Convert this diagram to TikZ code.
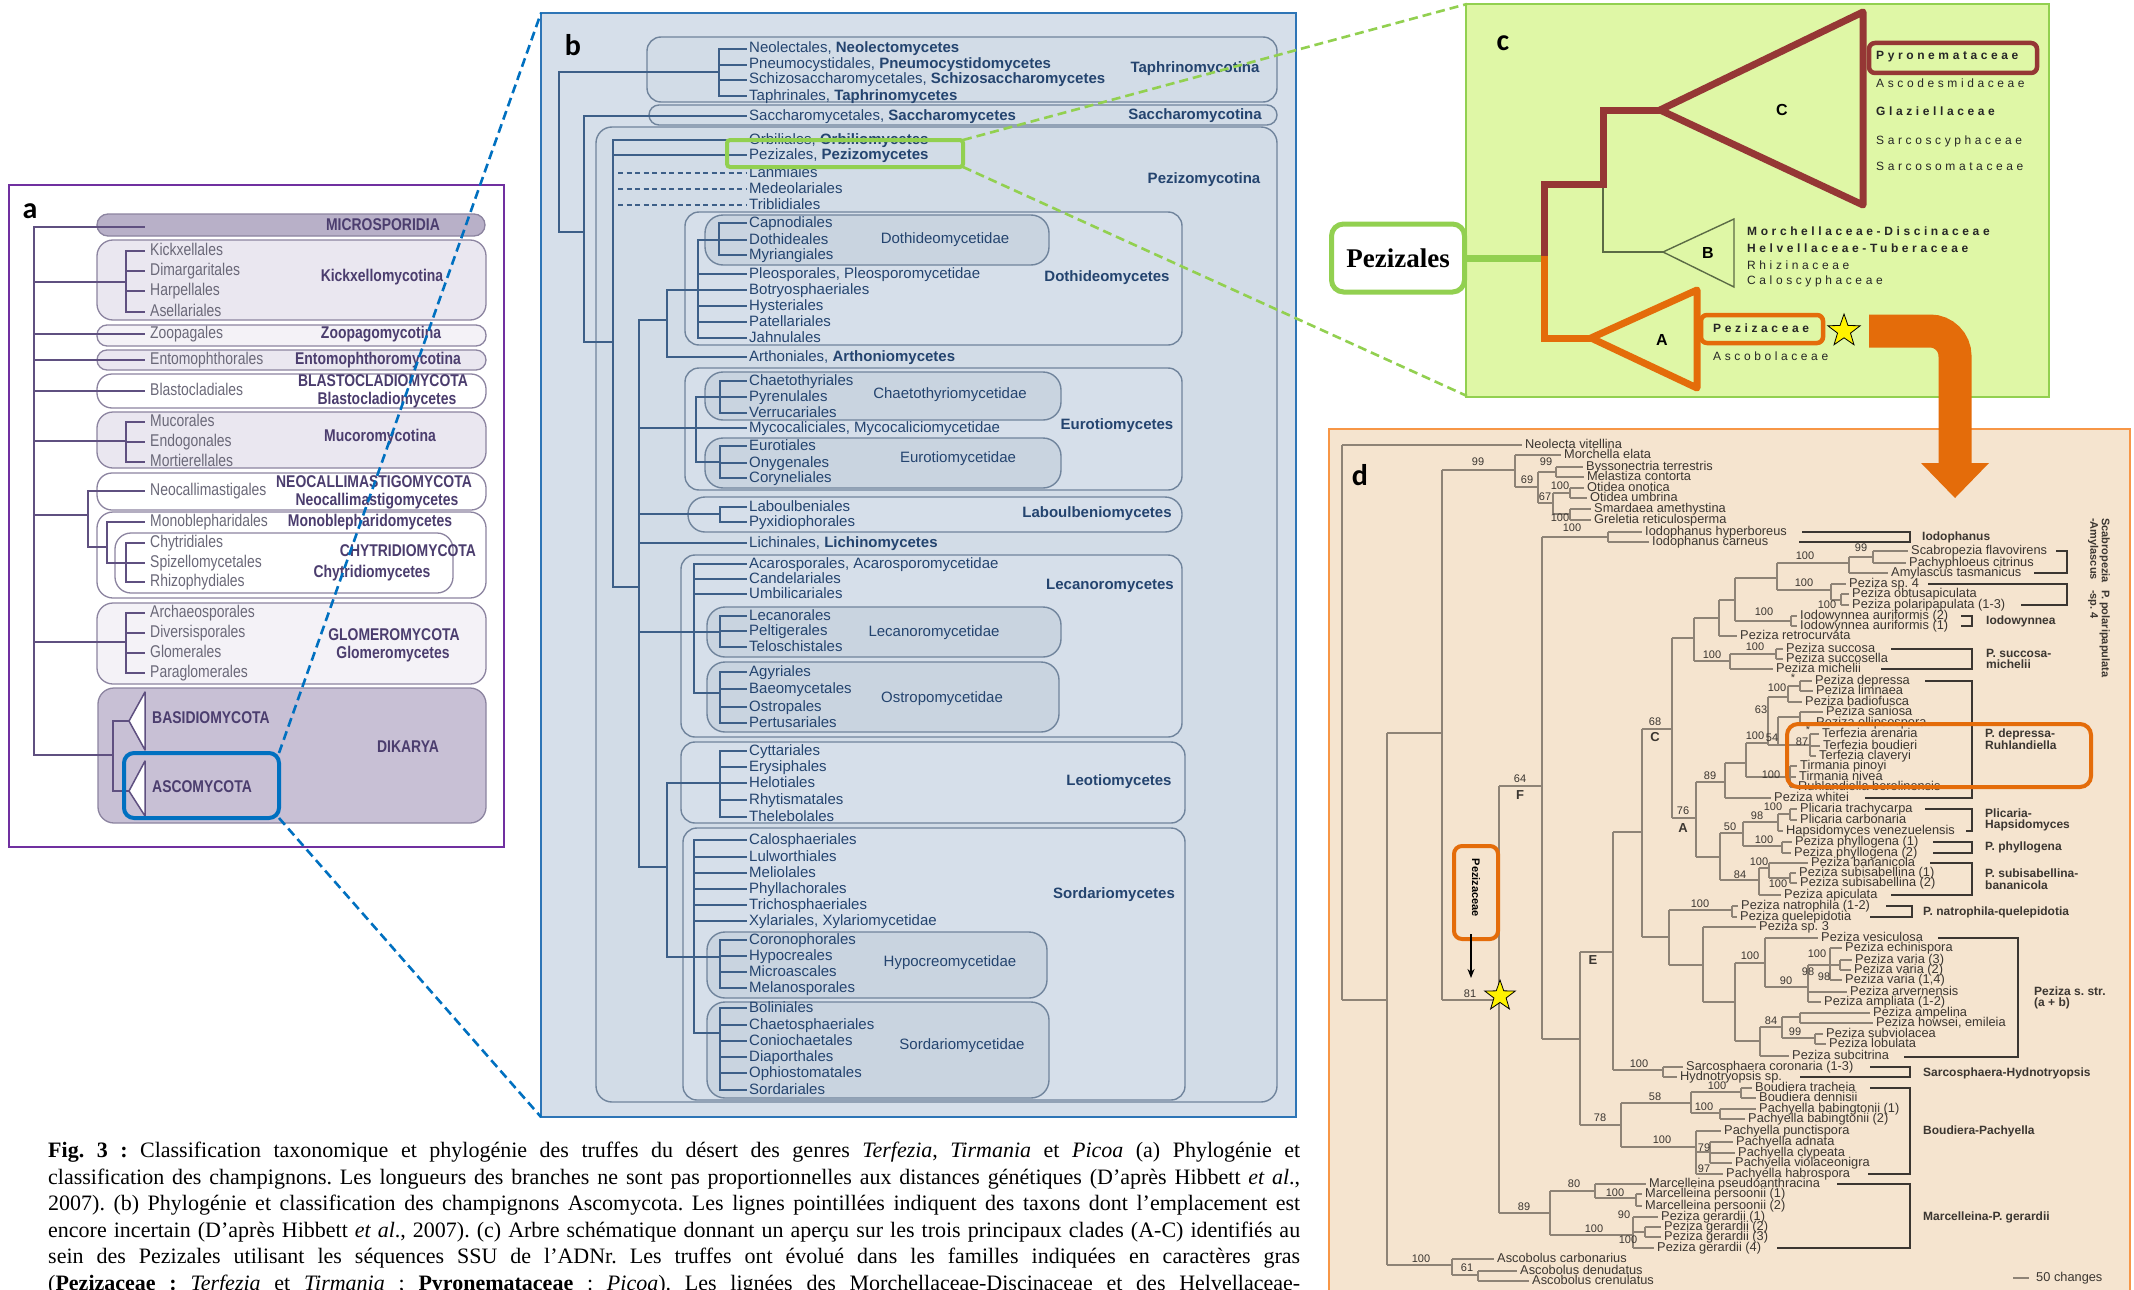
\documentclass[tikz,border=0pt]{standalone}
\usepackage{fontspec}
\setmainfont{Liberation Serif}
\newfontfamily\afont[FakeStretch=0.82]{Liberation Sans}
\newfontfamily\sfont{Liberation Sans}
\newfontfamily\cfont[LetterSpace=30]{Liberation Sans}
\newfontfamily\lblfont{Carlito}
\usetikzlibrary{shapes.geometric,arrows.meta}
\definecolor{aFrame}{HTML}{7030A0}
\definecolor{aTree}{HTML}{5F5080}
\definecolor{aBoxLine}{HTML}{8C84A0}
\definecolor{aFillA}{HTML}{EAE7F0}
\definecolor{aFillB}{HTML}{F4F2F7}
\definecolor{aDark}{HTML}{B8B0C8}
\definecolor{aDik}{HTML}{C8C0D5}
\definecolor{aTxt}{HTML}{6A6878}
\definecolor{aBold}{HTML}{4B3D6E}
\definecolor{blueC}{HTML}{0070C0}
\definecolor{bBg}{HTML}{D6DFEA}
\definecolor{bFrame}{HTML}{2E75B6}
\definecolor{bBox}{HTML}{70849C}
\definecolor{bFill}{HTML}{D2DCE7}
\definecolor{bFill2}{HTML}{C9D4E0}
\definecolor{bTree}{HTML}{3D5F88}
\definecolor{bTxt}{HTML}{24446F}
\definecolor{greenC}{HTML}{92D050}
\definecolor{cBg}{HTML}{DFF7A6}
\definecolor{cRed}{HTML}{953735}
\definecolor{cOrange}{HTML}{E46C0A}
\definecolor{cThin}{HTML}{5B6B45}
\definecolor{dBg}{HTML}{F5E4CF}
\definecolor{dFrame}{HTML}{F79646}
\definecolor{dTree}{HTML}{8E8376}
\definecolor{dTxt}{HTML}{3B3631}
\newcounter{nn}
\newcommand\tx[3][]{\stepcounter{nn}\node[#1] (t\thenn) at (#2) {#3};}
\frenchspacing
\begin{document}
\begin{tikzpicture}[x=1pt,y=-1pt,
 atree/.style={draw=aTree, line width=2pt, line cap=rect},
 abox/.style={draw=aBoxLine, line width=1.3pt, rounded corners=16pt},
 aord/.style={anchor=west, inner sep=0pt, text=aTxt, text height=12pt, text depth=3.5pt, font=\afont\fontsize{17}{18}\selectfont},
 abld/.style={inner sep=0pt, text=aBold, text height=12pt, text depth=3.5pt, font=\afont\bfseries\fontsize{17}{18}\selectfont},
 btree/.style={draw=bTree, line width=2.2pt, line cap=rect},
 bbox/.style={draw=bBox, line width=1.4pt, rounded corners=14pt},
 bord/.style={anchor=west, inner sep=0pt, text=bTxt, text height=11pt, text depth=3pt, font=\sfont\fontsize{15}{16}\selectfont},
 bbld/.style={inner sep=0pt, text=bTxt, text height=11pt, text depth=3pt, font=\sfont\bfseries\fontsize{15}{16}\selectfont},
 bsub/.style={inner sep=0pt, text=bTxt, text height=11pt, text depth=3pt, font=\sfont\fontsize{15}{16}\selectfont},
 plabel/.style={inner sep=0pt, font=\lblfont\bfseries\fontsize{30}{32}\selectfont},
 cfam/.style={anchor=west, inner sep=0pt, text=black!85, text height=9pt, text depth=2.5pt, font=\cfont\fontsize{12}{13}\selectfont},
 dtree/.style={draw=dTree, line width=1.3pt},
 dbr/.style={draw=dTxt, line width=2.6pt, line join=miter},
 dleaf/.style={anchor=west, inner sep=0pt, text=dTxt, text height=9pt, text depth=2.5pt, font=\sfont\fontsize{12.8}{13}\selectfont},
 dbs/.style={inner sep=0pt, text=dTxt, text height=8pt, text depth=2pt, font=\sfont\fontsize{11}{12}\selectfont},
 dcl/.style={inner sep=0pt, text=dTxt, font=\sfont\bfseries\fontsize{13}{14}\selectfont},
 dgrp/.style={anchor=west, inner sep=0pt, text=dTxt, align=left, font=\sfont\bfseries\fontsize{12}{11.5}\selectfont},
 captxt/.style={anchor=base west, inner sep=0pt, font=\fontsize{22}{25}\selectfont},
]
\useasboundingbox (0,0) rectangle (2134,1290);
\fill[white] (0,0) rectangle (2134,1290);

% ================= PANEL A =================
\draw[aFrame, line width=2pt, fill=white] (9,185) rectangle (504,847);
\draw[abox, fill=aDark, rounded corners=11pt] (97,214) rectangle (485,236);
\draw[abox, fill=aFillA] (97,240) rectangle (486,320);
\draw[abox, fill=aFillB, rounded corners=10pt] (97,325) rectangle (486,346);
\draw[abox, fill=aFillA, rounded corners=10pt] (97,350) rectangle (486,370);
\draw[abox, fill=white, rounded corners=15pt] (97,374) rectangle (486,408);
\draw[abox, fill=aFillA] (97,412) rectangle (486,468);
\draw[abox, fill=white, rounded corners=15pt] (97,473) rectangle (486,510);
\draw[abox, fill=white] (97,512) rectangle (486,598);
\draw[abox, fill=white] (115,533) rectangle (453,593);
\draw[abox, fill=aFillB] (97,603) rectangle (486,684);
\draw[abox, fill=aDik] (98,688) rectangle (486,823);
\draw[atree]
 (34,227)--(34,755) (34,227)--(144,227)
 (34,282)--(126,282) (126,251)--(126,312) (126,251)--(144,251) (126,271)--(144,271) (126,291)--(144,291) (126,312)--(144,312)
 (34,334)--(144,334) (34,360)--(144,360) (34,391)--(144,391)
 (34,441)--(126,441) (126,422)--(126,462) (126,422)--(144,422) (126,442)--(144,442) (126,462)--(144,462)
 (34,515)--(88,515) (88,491)--(88,547) (88,491)--(144,491) (88,547)--(107,547)
 (107,522)--(107,563) (107,522)--(144,522) (107,563)--(126,563) (126,543)--(126,582) (126,543)--(144,543) (126,563)--(144,563) (126,582)--(144,582)
 (34,642)--(126,642) (126,613)--(126,673) (126,613)--(144,613) (126,633)--(144,633) (126,653)--(144,653) (126,673)--(144,673)
 (34,755)--(113,755) (113,721)--(113,791) (113,721)--(129,721) (113,791)--(129,791);
\draw[aTree, line width=1.5pt, fill=white, line join=round] (129,721)--(145,692)--(145,750)--cycle;
\draw[aTree, line width=1.5pt, fill=white, line join=round] (129,791)--(145,761)--(145,816)--cycle;
\tx[plabel]{30,211}{a}
\tx[aord]{150,251}{Kickxellales}
\tx[aord]{150,271}{Dimargaritales}
\tx[aord]{150,291}{Harpellales}
\tx[aord]{150,312}{Asellariales}
\tx[aord]{150,334}{Zoopagales}
\tx[aord]{150,360}{Entomophthorales}
\tx[aord]{150,391}{Blastocladiales}
\tx[aord]{150,422}{Mucorales}
\tx[aord]{150,442}{Endogonales}
\tx[aord]{150,462}{Mortierellales}
\tx[aord]{150,491}{Neocallimastigales}
\tx[aord]{150,522}{Monoblepharidales}
\tx[aord]{150,543}{Chytridiales}
\tx[aord]{150,563}{Spizellomycetales}
\tx[aord]{150,582}{Rhizophydiales}
\tx[aord]{150,613}{Archaeosporales}
\tx[aord]{150,633}{Diversisporales}
\tx[aord]{150,653}{Glomerales}
\tx[aord]{150,673}{Paraglomerales}
\tx[abld]{383,226}{MICROSPORIDIA}
\tx[abld]{382,277}{Kickxellomycotina}
\tx[abld]{381,334}{Zoopagomycotina}
\tx[abld]{378,360}{Entomophthoromycotina}
\tx[abld]{383,382}{BLASTOCLADIOMYCOTA}
\tx[abld]{387,400}{Blastocladiomycetes}
\tx[abld]{380,437}{Mucoromycotina}
\tx[abld]{374,483}{NEOCALLIMASTIGOMYCOTA}
\tx[abld]{377,501}{Neocallimastigomycetes}
\tx[abld]{370,522}{Monoblepharidomycetes}
\tx[abld]{408,552}{CHYTRIDIOMYCOTA}
\tx[abld]{372,573}{Chytridiomycetes}
\tx[abld]{394,636}{GLOMEROMYCOTA}
\tx[abld]{393,654}{Glomeromycetes}
\tx[abld]{408,748}{DIKARYA}
\tx[abld, anchor=west]{152,719}{BASIDIOMYCOTA}
\tx[abld, anchor=west]{152,788}{ASCOMYCOTA}
\draw[blueC, line width=4pt, rounded corners=10pt] (124,753) rectangle (279,818);
\coordinate (ascTR) at (279,753);
\coordinate (ascBR) at (279,818);

% ================= PANEL B =================
\fill[bBg] (541,13) rectangle (1296,1117);
\draw[bFrame, line width=2pt] (541,13) rectangle (1296,1117);
\draw[bbox, fill=bFill] (647,37) rectangle (1277,102);
\draw[bbox, fill=bFill, rounded corners=10pt] (649,105) rectangle (1277,125);
\draw[bbox, fill=bFill, rounded corners=16pt] (596,127) rectangle (1277,1102);
\draw[bbox, fill=bBg] (685,212) rectangle (1182,345);
\draw[bbox, fill=bBg] (685,368) rectangle (1182,490);
\draw[bbox, fill=bBg, rounded corners=17pt] (688,497) rectangle (1182,532);
\draw[bbox, fill=bBg] (681,555) rectangle (1182,737);
\draw[bbox, fill=bBg] (681,742) rectangle (1185,823);
\draw[bbox, fill=bBg] (683,828) rectangle (1185,1100);
\draw[bbox, fill=bFill2, rounded corners=18pt] (705,215) rectangle (1049,265);
\draw[bbox, fill=bFill2, rounded corners=18pt] (705,372) rectangle (1061,420);
\draw[bbox, fill=bFill2, rounded corners=18pt] (705,438) rectangle (1061,488);
\draw[bbox, fill=bFill2, rounded corners=18pt] (707,607) rectangle (1061,657);
\draw[bbox, fill=bFill2, rounded corners=18pt] (707,662) rectangle (1059,732);
\draw[bbox, fill=bFill2, rounded corners=18pt] (707,932) rectangle (1047,998);
\draw[bbox, fill=bFill2, rounded corners=18pt] (707,1002) rectangle (1049,1098);
\draw[btree]
 (719,49)--(719,96) (719,49)--(746,49) (719,65)--(746,65) (719,80)--(746,80) (719,96)--(746,96)
 (559,72)--(719,72) (559,72)--(559,232) (559,232)--(584,232)
 (584,116)--(584,342) (584,116)--(746,116) (584,342)--(613,342)
 (613,140)--(613,587) (613,140)--(746,140) (613,155)--(746,155) (613,587)--(639,587)
 (639,320)--(639,867) (639,320)--(667,320)
 (667,290)--(667,357) (667,290)--(698,290) (667,357)--(746,357)
 (698,240)--(698,338) (698,240)--(719,240) (698,274)--(746,274) (698,290)--(746,290) (698,306)--(746,306) (698,322)--(746,322) (698,338)--(746,338)
 (719,223)--(719,255) (719,223)--(746,223) (719,240)--(746,240) (719,255)--(746,255)
 (696,397)--(696,462) (696,397)--(720,397) (696,462)--(720,462) (639,428)--(746,428)
 (720,381)--(720,413) (720,381)--(746,381) (720,397)--(746,397) (720,413)--(746,413)
 (720,446)--(720,478) (720,446)--(746,446) (720,463)--(746,463) (720,478)--(746,478)
 (639,514)--(720,514) (720,507)--(720,522) (720,507)--(746,507) (720,522)--(746,522)
 (639,543)--(746,543)
 (694,564)--(694,693) (694,564)--(746,564) (694,579)--(746,579) (694,594)--(746,594)
 (639,632)--(720,632) (720,616)--(720,647) (720,616)--(746,616) (720,631)--(746,631) (720,647)--(746,647)
 (694,693)--(720,693) (720,672)--(720,723) (720,672)--(746,672) (720,689)--(746,689) (720,707)--(746,707) (720,723)--(746,723)
 (639,867)--(667,867) (667,783)--(667,957)
 (667,783)--(720,783) (720,751)--(720,817) (720,751)--(746,751) (720,767)--(746,767) (720,783)--(746,783) (720,800)--(746,800) (720,817)--(746,817)
 (694,840)--(694,1033) (694,840)--(746,840) (694,857)--(746,857) (694,873)--(746,873) (694,889)--(746,889) (694,905)--(746,905) (694,921)--(746,921)
 (667,957)--(720,957) (720,940)--(720,988) (720,940)--(746,940) (720,956)--(746,956) (720,972)--(746,972) (720,988)--(746,988)
 (694,1033)--(720,1033) (720,1008)--(720,1090) (720,1008)--(746,1008) (720,1025)--(746,1025) (720,1041)--(746,1041) (720,1057)--(746,1057) (720,1073)--(746,1073) (720,1090)--(746,1090);
\draw[bTree, line width=2.2pt, dash pattern=on 5pt off 3.5pt] (618,173)--(746,173) (618,189)--(746,189) (618,205)--(746,205);
\tx[plabel]{573,45}{b}
\tx[bord]{749,49}{Neolectales, \textbf{Neolectomycetes}}
\tx[bord]{749,65}{Pneumocystidales, \textbf{Pneumocystidomycetes}}
\tx[bord]{749,80}{Schizosaccharomycetales, \textbf{Schizosaccharomycetes}}
\tx[bord]{749,96}{Taphrinales, \textbf{Taphrinomycetes}}
\tx[bord]{749,116}{Saccharomycetales, \textbf{Saccharomycetes}}
\tx[bord]{749,140}{Orbiliales, \textbf{Orbiliomycetes}}
\tx[bord]{749,155}{Pezizales, \textbf{Pezizomycetes}}
\tx[bord]{749,173}{Lahmiales}
\tx[bord]{749,189}{Medeolariales}
\tx[bord]{749,205}{Triblidiales}
\tx[bord]{749,223}{Capnodiales}
\tx[bord]{749,240}{Dothideales}
\tx[bord]{749,255}{Myriangiales}
\tx[bord]{749,274}{Pleosporales, Pleosporomycetidae}
\tx[bord]{749,290}{Botryosphaeriales}
\tx[bord]{749,306}{Hysteriales}
\tx[bord]{749,322}{Patellariales}
\tx[bord]{749,338}{Jahnulales}
\tx[bord]{749,357}{Arthoniales, \textbf{Arthoniomycetes}}
\tx[bord]{749,381}{Chaetothyriales}
\tx[bord]{749,397}{Pyrenulales}
\tx[bord]{749,413}{Verrucariales}
\tx[bord]{749,428}{Mycocaliciales, Mycocaliciomycetidae}
\tx[bord]{749,446}{Eurotiales}
\tx[bord]{749,463}{Onygenales}
\tx[bord]{749,478}{Coryneliales}
\tx[bord]{749,507}{Laboulbeniales}
\tx[bord]{749,522}{Pyxidiophorales}
\tx[bord]{749,543}{Lichinales, \textbf{Lichinomycetes}}
\tx[bord]{749,564}{Acarosporales, Acarosporomycetidae}
\tx[bord]{749,579}{Candelariales}
\tx[bord]{749,594}{Umbilicariales}
\tx[bord]{749,616}{Lecanorales}
\tx[bord]{749,631}{Peltigerales}
\tx[bord]{749,647}{Teloschistales}
\tx[bord]{749,672}{Agyriales}
\tx[bord]{749,689}{Baeomycetales}
\tx[bord]{749,707}{Ostropales}
\tx[bord]{749,723}{Pertusariales}
\tx[bord]{749,751}{Cyttariales}
\tx[bord]{749,767}{Erysiphales}
\tx[bord]{749,783}{Helotiales}
\tx[bord]{749,800}{Rhytismatales}
\tx[bord]{749,817}{Thelebolales}
\tx[bord]{749,840}{Calosphaeriales}
\tx[bord]{749,857}{Lulworthiales}
\tx[bord]{749,873}{Meliolales}
\tx[bord]{749,889}{Phyllachorales}
\tx[bord]{749,905}{Trichosphaeriales}
\tx[bord]{749,921}{Xylariales, Xylariomycetidae}
\tx[bord]{749,940}{Coronophorales}
\tx[bord]{749,956}{Hypocreales}
\tx[bord]{749,972}{Microascales}
\tx[bord]{749,988}{Melanosporales}
\tx[bord]{749,1008}{Boliniales}
\tx[bord]{749,1025}{Chaetosphaeriales}
\tx[bord]{749,1041}{Coniochaetales}
\tx[bord]{749,1057}{Diaporthales}
\tx[bord]{749,1073}{Ophiostomatales}
\tx[bord]{749,1090}{Sordariales}
\tx[bbld]{1195,69}{Taphrinomycotina}
\tx[bbld]{1195,115}{Saccharomycotina}
\tx[bbld]{1204,179}{Pezizomycotina}
\tx[bbld]{1107,277}{Dothideomycetes}
\tx[bbld]{1117,425}{Eurotiomycetes}
\tx[bbld]{1097,513}{Laboulbeniomycetes}
\tx[bbld]{1110,585}{Lecanoromycetes}
\tx[bbld]{1119,781}{Leotiomycetes}
\tx[bbld]{1114,894}{Sordariomycetes}
\tx[bsub]{945,239}{Dothideomycetidae}
\tx[bsub]{950,394}{Chaetothyriomycetidae}
\tx[bsub]{958,458}{Eurotiomycetidae}
\tx[bsub]{934,632}{Lecanoromycetidae}
\tx[bsub]{942,698}{Ostropomycetidae}
\tx[bsub]{950,962}{Hypocreomycetidae}
\tx[bsub]{962,1045}{Sordariomycetidae}
\draw[greenC, line width=4pt, rounded corners=3pt] (727,140) rectangle (963,167);
\coordinate (pezTR) at (963,140);
\coordinate (pezBR) at (963,167);
\coordinate (bTL) at (541,13);
\coordinate (bBL) at (541,1117);

% ================= PANEL C =================
\fill[cBg] (1466,4) rectangle (2049,397);
\draw[greenC, line width=2pt] (1466,4) rectangle (2049,397);
\coordinate (cTL) at (1467,4);
\coordinate (cBL) at (1467,396);
\tx[plabel]{1503,43}{c}
\node[draw=greenC, line width=5pt, fill=white, rounded corners=12pt, minimum width=133pt, minimum height=68pt, inner sep=0pt, font=\bfseries\fontsize{27}{30}\selectfont] (pezbox) at (1398,258) {Pezizales};
\coordinate (root) at (1544,258);
\draw[greenC, line width=7pt] (pezbox.east) -- (root);
\draw[cThin, line width=1.4pt] (1603,184) -- (1603,252) -- (1663,252);
\draw[cThin, line width=1.4pt] (1663,252) -- (1734,219) -- (1734,287) -- cycle;
\draw[cRed, line width=7pt, line join=miter] (1544,261) -- (1544,184) -- (1603,184) -- (1603,110) -- (1662,110);
\draw[cRed, line width=7pt, line join=round] (1660,110) -- (1863,12) -- (1863,205) -- cycle;
\draw[cOrange, line width=7pt, line join=miter] (1544,256) -- (1544,338) -- (1593,338);
\draw[cOrange, line width=7pt, line join=round] (1591,338) -- (1697,290) -- (1697,388) -- cycle;
\tx[inner sep=0pt, font=\sfont\bfseries\fontsize{16}{17}\selectfont]{1782,110}{C}
\tx[inner sep=0pt, font=\sfont\bfseries\fontsize{16}{17}\selectfont]{1708,253}{B}
\tx[inner sep=0pt, font=\sfont\bfseries\fontsize{16}{17}\selectfont]{1662,340}{A}
\tx[cfam, font=\cfont\bfseries\fontsize{12}{13}\selectfont]{1876,56}{Pyronemataceae}
\tx[cfam]{1876,84}{Ascodesmidaceae}
\tx[cfam, font=\cfont\bfseries\fontsize{12}{13}\selectfont]{1876,112}{Glaziellaceae}
\tx[cfam]{1876,141}{Sarcoscyphaceae}
\tx[cfam]{1876,167}{Sarcosomataceae}
\tx[cfam, font=\cfont\bfseries\fontsize{12}{13}\selectfont]{1747,232}{Morchellaceae-Discinaceae}
\tx[cfam, font=\cfont\bfseries\fontsize{12}{13}\selectfont]{1747,249}{Helvellaceae-Tuberaceae}
\tx[cfam]{1747,266}{Rhizinaceae}
\tx[cfam]{1747,281}{Caloscyphaceae}
\tx[cfam, font=\cfont\bfseries\fontsize{12}{13}\selectfont]{1713,329}{Pezizaceae}
\tx[cfam]{1713,357}{Ascobolaceae}
\draw[cRed, line width=4.5pt, rounded corners=6pt] (1869,43) rectangle (2037,73);
\draw[cOrange, line width=4.5pt, rounded corners=6pt] (1701,315) rectangle (1823,343);
\node[star, star points=5, star point ratio=2.5, draw=black, fill=yellow, line width=0.8pt, minimum size=34pt, inner sep=0pt] (starc) at (1844,331) {};

% ================= PANEL D =================
\fill[dBg] (1329,429) rectangle (2130,1300);
\draw[dFrame, line width=2pt] (1329,429) rectangle (2130,1300);
\tx[plabel]{1360,475}{d}
\draw[dtree]
 (1342,445)--(1342,1000) (1342,445)--(1522,445)
 (1342,1000)--(1387,1000) (1387,733)--(1387,1265)
 (1387,733)--(1442,733) (1442,470)--(1442,1000)
 (1442,470)--(1515,470) (1515,455)--(1515,487) (1515,455)--(1561,455)
 (1515,487)--(1538,487) (1538,472)--(1538,503)
 (1538,472)--(1556,472) (1556,467)--(1556,477) (1556,467)--(1583,467) (1556,477)--(1584,477)
 (1538,503)--(1553,503) (1553,493)--(1553,514)
 (1553,493)--(1570,493) (1570,488)--(1570,498) (1570,488)--(1584,488) (1570,498)--(1587,498)
 (1553,514)--(1570,514) (1570,509)--(1570,520) (1570,509)--(1591,509) (1570,520)--(1591,520)
 (1442,1000)--(1499,1000) (1499,786)--(1499,1213) (1499,786)--(1542,786)
 (1542,537)--(1542,1039) (1542,537)--(1608,537) (1608,532)--(1608,542) (1608,532)--(1642,532) (1608,542)--(1649,542)
 (1542,1039)--(1580,1039) (1580,952)--(1580,1125) (1580,952)--(1613,952)
 (1613,832)--(1613,1070) (1613,832)--(1642,832) (1642,729)--(1642,937) (1642,729)--(1672,729)
 (1672,638)--(1672,818) (1672,638)--(1694,638) (1694,618)--(1694,661)
 (1694,618)--(1719,618) (1719,600)--(1719,636) (1719,636)--(1737,636)
 (1719,600)--(1735,600) (1735,578)--(1735,621)
 (1735,621)--(1791,621) (1791,616)--(1791,626) (1791,616)--(1797,616) (1791,626)--(1797,626)
 (1735,578)--(1777,578) (1777,563)--(1777,590)
 (1777,563)--(1849,563) (1849,557)--(1849,573) (1849,557)--(1873,557) (1873,551)--(1873,563) (1873,551)--(1908,551) (1873,563)--(1906,563) (1849,573)--(1888,573)
 (1777,590)--(1831,590) (1831,584)--(1831,600) (1831,584)--(1846,584) (1831,600)--(1841,600) (1841,594)--(1841,605) (1841,594)--(1849,594) (1841,605)--(1849,605)
 (1694,661)--(1730,661) (1730,654)--(1730,669) (1730,654)--(1776,654) (1776,649)--(1776,659) (1776,649)--(1783,649) (1776,659)--(1783,659) (1730,669)--(1773,669)
 (1672,818)--(1696,818) (1696,782)--(1696,857)
 (1696,782)--(1725,782) (1725,763)--(1725,798) (1725,798)--(1771,798) (1725,763)--(1746,763)
 (1746,743)--(1746,777) (1746,743)--(1768,743) (1746,777)--(1790,777)
 (1790,766)--(1790,787) (1790,766)--(1797,766) (1790,777)--(1796,777) (1790,787)--(1795,787)
 (1768,697)--(1768,745) (1768,697)--(1788,697) (1788,686)--(1788,702) (1788,686)--(1800,686) (1800,681)--(1800,691) (1800,681)--(1812,681) (1800,691)--(1813,691) (1788,702)--(1802,702)
 (1768,745)--(1778,745) (1778,717)--(1778,745) (1778,717)--(1800,717) (1800,712)--(1800,723) (1800,712)--(1823,712) (1800,723)--(1813,723) (1778,745)--(1810,745) (1810,734)--(1810,756) (1810,734)--(1819,734) (1810,746)--(1820,746) (1810,756)--(1816,756)
 (1696,857)--(1720,857) (1720,833)--(1720,880)
 (1720,833)--(1743,833) (1743,822)--(1743,846) (1743,822)--(1778,822) (1778,814)--(1778,831) (1778,814)--(1790,814) (1790,809)--(1790,820) (1790,809)--(1797,809) (1790,820)--(1797,820) (1778,831)--(1783,831)
 (1743,846)--(1782,846) (1782,842)--(1782,853) (1782,842)--(1792,842) (1782,853)--(1791,853)
 (1720,880)--(1759,880) (1759,868)--(1759,895) (1759,868)--(1769,868) (1769,863)--(1769,878) (1769,863)--(1808,863) (1769,878)--(1790,878) (1790,873)--(1790,883) (1790,873)--(1796,873) (1790,883)--(1797,883) (1759,895)--(1781,895)
 (1642,937)--(1669,937) (1669,910)--(1669,965)
 (1669,910)--(1732,910) (1732,906)--(1732,917) (1732,906)--(1738,906) (1732,917)--(1737,917)
 (1669,965)--(1703,965) (1703,927)--(1703,1002) (1703,927)--(1756,927) (1703,1002)--(1735,1002)
 (1735,963)--(1735,1041) (1735,963)--(1765,963) (1765,938)--(1765,987) (1765,938)--(1818,938) (1765,987)--(1808,987)
 (1808,965)--(1808,1002) (1808,965)--(1830,965) (1830,948)--(1830,980) (1830,948)--(1842,948) (1830,965)--(1840,965) (1840,960)--(1840,970) (1840,960)--(1852,960) (1840,970)--(1851,970) (1830,980)--(1842,980) (1808,992)--(1847,992) (1808,1002)--(1821,1002)
 (1735,1041)--(1760,1041) (1760,1027)--(1760,1056) (1760,1027)--(1782,1027) (1782,1017)--(1782,1038) (1782,1017)--(1800,1017) (1800,1013)--(1800,1023) (1800,1013)--(1870,1013) (1800,1023)--(1873,1023) (1782,1038)--(1815,1038) (1815,1034)--(1815,1044) (1815,1034)--(1823,1034) (1815,1044)--(1826,1044) (1760,1056)--(1789,1056)
 (1613,1070)--(1663,1070) (1663,1067)--(1663,1077) (1663,1067)--(1683,1067) (1663,1077)--(1677,1077)
 (1580,1125)--(1621,1125) (1621,1103)--(1621,1147) (1621,1103)--(1691,1103) (1691,1092)--(1691,1113) (1691,1092)--(1741,1092) (1741,1088)--(1741,1098) (1741,1088)--(1752,1088) (1741,1098)--(1756,1098) (1691,1113)--(1720,1113) (1720,1109)--(1720,1119) (1720,1109)--(1756,1109) (1720,1119)--(1745,1119)
 (1621,1147)--(1696,1147) (1696,1131)--(1696,1174) (1696,1131)--(1721,1131) (1696,1152)--(1710,1152) (1710,1142)--(1710,1163) (1710,1142)--(1733,1142) (1710,1153)--(1735,1153) (1710,1163)--(1732,1163) (1696,1174)--(1723,1174)
 (1499,1213)--(1550,1213) (1550,1191)--(1550,1235) (1550,1191)--(1595,1191) (1595,1184)--(1595,1198) (1595,1184)--(1646,1184) (1595,1198)--(1636,1198) (1636,1194)--(1636,1206) (1636,1194)--(1642,1194) (1636,1206)--(1642,1206)
 (1550,1235)--(1633,1235) (1633,1217)--(1633,1248) (1633,1217)--(1658,1217) (1633,1232)--(1645,1232) (1645,1227)--(1645,1237) (1645,1227)--(1661,1227) (1645,1237)--(1661,1237) (1633,1248)--(1654,1248)
 (1387,1265)--(1452,1265) (1452,1259)--(1452,1275) (1452,1259)--(1494,1259) (1452,1275)--(1478,1275) (1478,1271)--(1478,1281) (1478,1271)--(1517,1271) (1478,1281)--(1529,1281)
 (2013,1278)--(2029,1278);
\draw[dbr]
 (1802,532)--(1910,532)--(1910,542)--(1799,542)
 (2056,551)--(2067,551)--(2067,573)--(2034,573)
 (1928,584)--(2067,584)--(2067,605)--(2021,605)
 (1961,616)--(1972,616)--(1972,626)--(1961,626)
 (1891,649)--(1972,649)--(1972,669)--(1881,669)
 (1925,681)--(1972,681)--(1972,798)--(1865,798)
 (1925,809)--(1972,809)--(1972,831)--(1966,831)
 (1933,842)--(1972,842)--(1972,853)--(1933,853)
 (1930,863)--(1972,863)--(1972,895)--(1891,895)
 (1886,906)--(1912,906)--(1912,917)--(1870,917)
 (1938,938)--(2018,938)--(2018,1057)--(1904,1057)
 (1870,1067)--(1910,1067)--(1910,1077)--(1800,1077)
 (1870,1088)--(1910,1088)--(1910,1174)--(1868,1174)
 (1837,1184)--(1910,1184)--(1910,1248)--(1777,1248);
% leaves
\tx[dleaf]{1525,445}{Neolecta vitellina}
\tx[dleaf]{1564,455}{Morchella elata}
\tx[dleaf]{1586,467}{Byssonectria terrestris}
\tx[dleaf]{1587,477}{Melastiza contorta}
\tx[dleaf]{1587,488}{Otidea onotica}
\tx[dleaf]{1590,498}{Otidea umbrina}
\tx[dleaf]{1594,509}{Smardaea amethystina}
\tx[dleaf]{1594,520}{Greletia reticulosperma}
\tx[dleaf]{1645,532}{Iodophanus hyperboreus}
\tx[dleaf]{1652,542}{Iodophanus carneus}
\tx[dleaf]{1911,551}{Scabropezia flavovirens}
\tx[dleaf]{1909,563}{Pachyphloeus citrinus}
\tx[dleaf]{1891,573}{Amylascus tasmanicus}
\tx[dleaf]{1849,584}{Peziza sp. 4}
\tx[dleaf]{1852,594}{Peziza obtusapiculata}
\tx[dleaf]{1852,605}{Peziza polaripapulata (1-3)}
\tx[dleaf]{1800,616}{Iodowynnea auriformis (2)}
\tx[dleaf]{1800,626}{Iodowynnea auriformis (1)}
\tx[dleaf]{1740,636}{Peziza retrocurvata}
\tx[dleaf]{1786,649}{Peziza succosa}
\tx[dleaf]{1786,659}{Peziza succosella}
\tx[dleaf]{1776,669}{Peziza michelii}
\tx[dleaf]{1815,681}{Peziza depressa}
\tx[dleaf]{1816,691}{Peziza limnaea}
\tx[dleaf]{1805,702}{Peziza badiofusca}
\tx[dleaf]{1826,712}{Peziza saniosa}
\tx[dleaf]{1816,723}{Peziza ellipsospora}
\tx[dleaf]{1822,734}{Terfezia arenaria}
\tx[dleaf]{1823,746}{Terfezia boudieri}
\tx[dleaf]{1819,756}{Terfezia claveryi}
\tx[dleaf]{1800,766}{Tirmania pinoyi}
\tx[dleaf]{1799,777}{Tirmania nivea}
\tx[dleaf]{1798,787}{Ruhlandiella berolinensis}
\tx[dleaf]{1774,798}{Peziza whitei}
\tx[dleaf]{1800,809}{Plicaria trachycarpa}
\tx[dleaf]{1800,820}{Plicaria carbonaria}
\tx[dleaf]{1786,831}{Hapsidomyces venezuelensis}
\tx[dleaf]{1795,842}{Peziza phyllogena (1)}
\tx[dleaf]{1794,853}{Peziza phyllogena (2)}
\tx[dleaf]{1811,863}{Peziza bananicola}
\tx[dleaf]{1799,873}{Peziza subisabellina (1)}
\tx[dleaf]{1800,883}{Peziza subisabellina (2)}
\tx[dleaf]{1784,895}{Peziza apiculata}
\tx[dleaf]{1741,906}{Peziza natrophila (1-2)}
\tx[dleaf]{1740,917}{Peziza quelepidotia}
\tx[dleaf]{1759,927}{Peziza sp. 3}
\tx[dleaf]{1821,938}{Peziza vesiculosa}
\tx[dleaf]{1845,948}{Peziza echinispora}
\tx[dleaf]{1855,960}{Peziza varia (3)}
\tx[dleaf]{1854,970}{Peziza varia (2)}
\tx[dleaf]{1845,980}{Peziza varia (1,4)}
\tx[dleaf]{1850,992}{Peziza arvernensis}
\tx[dleaf]{1824,1002}{Peziza ampliata (1-2)}
\tx[dleaf]{1873,1013}{Peziza ampelina}
\tx[dleaf]{1876,1023}{Peziza howsei, emileia}
\tx[dleaf]{1826,1034}{Peziza subviolacea}
\tx[dleaf]{1829,1044}{Peziza lobulata}
\tx[dleaf]{1792,1056}{Peziza subcitrina}
\tx[dleaf]{1686,1067}{Sarcosphaera coronaria (1-3)}
\tx[dleaf]{1680,1077}{Hydnotryopsis sp.}
\tx[dleaf]{1755,1088}{Boudiera tracheia}
\tx[dleaf]{1759,1098}{Boudiera dennisii}
\tx[dleaf]{1759,1109}{Pachyella babingtonii (1)}
\tx[dleaf]{1748,1119}{Pachyella babingtonii (2)}
\tx[dleaf]{1724,1131}{Pachyella punctispora}
\tx[dleaf]{1736,1142}{Pachyella adnata}
\tx[dleaf]{1738,1153}{Pachyella clypeata}
\tx[dleaf]{1735,1163}{Pachyella violaceonigra}
\tx[dleaf]{1726,1174}{Pachyella habrospora}
\tx[dleaf]{1649,1184}{Marcelleina pseudoanthracina}
\tx[dleaf]{1645,1194}{Marcelleina persoonii (1)}
\tx[dleaf]{1645,1206}{Marcelleina persoonii (2)}
\tx[dleaf]{1661,1217}{Peziza gerardii (1)}
\tx[dleaf]{1664,1227}{Peziza gerardii (2)}
\tx[dleaf]{1664,1237}{Peziza gerardii (3)}
\tx[dleaf]{1657,1248}{Peziza gerardii (4)}
\tx[dleaf]{1497,1259}{Ascobolus carbonarius}
\tx[dleaf]{1520,1271}{Ascobolus denudatus}
\tx[dleaf]{1532,1281}{Ascobolus crenulatus}
\tx[dleaf]{2036,1278}{50 changes}
% support values
\tx[dbs]{1478,462}{99}
\tx[dbs]{1527,480}{69}
\tx[dbs]{1546,462}{99}
\tx[dbs]{1560,486}{100}
\tx[dbs]{1545,497}{67}
\tx[dbs]{1560,518}{100}
\tx[dbs]{1572,528}{100}
\tx[dbs]{1861,548}{99}
\tx[dbs]{1805,556}{100}
\tx[dbs]{1804,583}{100}
\tx[dbs]{1827,605}{100}
\tx[dbs]{1764,612}{100}
\tx[dbs]{1712,655}{100}
\tx[dbs]{1755,647}{100}
\tx[dbs]{1777,688}{100}
\tx[dbs]{1793,678}{*}
\tx[dbs]{1761,710}{63}
\tx[dbs]{1655,722}{68}
\tx[dcl]{1655,737}{C}
\tx[dbs]{1755,736}{100}
\tx[dbs]{1772,738}{54}
\tx[dbs]{1802,742}{87}
\tx[dbs]{1808,730}{*}
\tx[dbs]{1771,775}{100}
\tx[dbs]{1710,776}{89}
\tx[dbs]{1520,779}{64}
\tx[dcl]{1520,795}{F}
\tx[dbs]{1683,811}{76}
\tx[dcl]{1683,828}{A}
\tx[dbs]{1773,807}{100}
\tx[dbs]{1757,816}{98}
\tx[dbs]{1730,827}{50}
\tx[dbs]{1764,840}{100}
\tx[dbs]{1759,862}{100}
\tx[dbs]{1740,875}{84}
\tx[dbs]{1778,884}{100}
\tx[dbs]{1700,904}{100}
\tx[dcl]{1593,960}{E}
\tx[dbs]{1750,956}{100}
\tx[dbs]{1817,954}{100}
\tx[dbs]{1808,972}{98}
\tx[dbs]{1824,977}{98}
\tx[dbs]{1786,981}{90}
\tx[dbs]{1470,994}{81}
\tx[dbs]{1771,1021}{84}
\tx[dbs]{1795,1032}{99}
\tx[dbs]{1639,1064}{100}
\tx[dbs]{1717,1086}{100}
\tx[dbs]{1655,1097}{58}
\tx[dbs]{1704,1107}{100}
\tx[dbs]{1600,1118}{78}
\tx[dbs]{1662,1140}{100}
\tx[dbs]{1704,1148}{79}
\tx[dbs]{1704,1169}{97}
\tx[dbs]{1574,1184}{80}
\tx[dbs]{1615,1193}{100}
\tx[dbs]{1524,1207}{89}
\tx[dbs]{1624,1215}{90}
\tx[dbs]{1594,1229}{100}
\tx[dbs]{1628,1240}{100}
\tx[dbs]{1421,1259}{100}
\tx[dbs]{1467,1268}{61}
% group labels
\tx[dgrp]{1922,537}{Iodophanus}
\tx[dgrp]{1986,621}{Iodowynnea}
\tx[dgrp]{1986,659}{P. succosa-\\michelii}
\tx[dgrp]{1985,739}{P. depressa-\\Ruhlandiella}
\tx[dgrp]{1985,820}{Plicaria-\\Hapsidomyces}
\tx[dgrp]{1985,847}{P. phyllogena}
\tx[dgrp]{1985,879}{P. subisabellina-\\bananicola}
\tx[dgrp]{1923,912}{P. natrophila-quelepidotia}
\tx[dgrp]{2034,998}{Peziza s. str.\\(a + b)}
\tx[dgrp]{1923,1073}{Sarcosphaera-Hydnotryopsis}
\tx[dgrp]{1923,1131}{Boudiera-Pachyella}
\tx[dgrp]{1923,1217}{Marcelleina-P. gerardii}
\tx[dgrp, rotate=-90, font=\sfont\bfseries\fontsize{11}{11.5}\selectfont]{2099,518}{Scabropezia\\-Amylascus}
\tx[dgrp, rotate=-90, font=\sfont\bfseries\fontsize{11}{11.5}\selectfont]{2099,590}{P. polaripapulata\\-sp. 4}
\draw[cOrange, line width=4pt, rounded corners=11pt] (1787,724) rectangle (2091,787);
\draw[cOrange, line width=4pt, rounded corners=8pt] (1454,846) rectangle (1498,939);
\tx[rotate=-90, inner sep=0pt, text=black, font=\sfont\bfseries\fontsize{11}{12}\selectfont]{1476,888}{Pezizaceae}
\coordinate (arrS) at (1471,934);
\coordinate (arrE) at (1471,978);
\draw[black, line width=1.6pt, -{Stealth[length=9pt,width=7pt]}] (arrS) -- (arrE);
\node[star, star points=5, star point ratio=2.5, draw=black, fill=yellow, line width=0.8pt, minimum size=32pt, inner sep=0pt] (stard) at (1500,996) {};

% ================= big arrow c -> d =================
\coordinate (bigA) at (1869,331);
\coordinate (bigB) at (1955,331);
\coordinate (bigC) at (1955,466);
\draw[cOrange, line width=33pt, rounded corners=25pt] (bigA) -- (bigB) -- (bigC);
\fill[cOrange] (1921,463) -- (1989,463) -- (1955,498) -- cycle;

% ================= connectors =================
\draw[blueC, line width=2.6pt, dash pattern=on 9pt off 5pt] (ascTR) -- (bTL);
\draw[blueC, line width=2.6pt, dash pattern=on 9pt off 5pt] (ascBR) -- (bBL);
\draw[greenC, line width=2.6pt, dash pattern=on 9pt off 5pt] (pezTR) -- (cTL);
\draw[greenC, line width=2.6pt, dash pattern=on 9pt off 5pt] (pezBR) -- (cBL);

% ================= caption =================
\tx[captxt]{48,1157}{\makebox[1252pt][s]{\textbf{Fig. 3 :} Classification taxonomique et phylogénie des truffes du désert des genres \textit{Terfezia}, \textit{Tirmania} et \textit{Picoa} (a) Phylogénie et}}
\tx[captxt]{48,1184}{\makebox[1252pt][s]{classification des champignons. Les longueurs des branches ne sont pas proportionnelles aux distances génétiques (D’après Hibbett \textit{et al}.,}}
\tx[captxt]{48,1210}{\makebox[1252pt][s]{2007). (b) Phylogénie et classification des champignons Ascomycota. Les lignes pointillées indiquent des taxons dont l’emplacement est}}
\tx[captxt]{48,1237}{\makebox[1252pt][s]{encore incertain (D’après Hibbett \textit{et al}., 2007). (c) Arbre schématique donnant un aperçu sur les trois principaux clades (A-C) identifiés au}}
\tx[captxt]{48,1263}{\makebox[1252pt][s]{sein des Pezizales utilisant les séquences SSU de l’ADNr. Les truffes ont évolué dans les familles indiquées en caractères gras}}
\tx[captxt]{48,1290}{\makebox[1252pt][s]{(\textbf{Pezizaceae :} \textit{Terfezia} et \textit{Tirmania} ; \textbf{Pyronemataceae} : \textit{Picoa}). Les lignées des Morchellaceae-Discinaceae et des Helvellaceae-}}
\end{tikzpicture}
\end{document}
